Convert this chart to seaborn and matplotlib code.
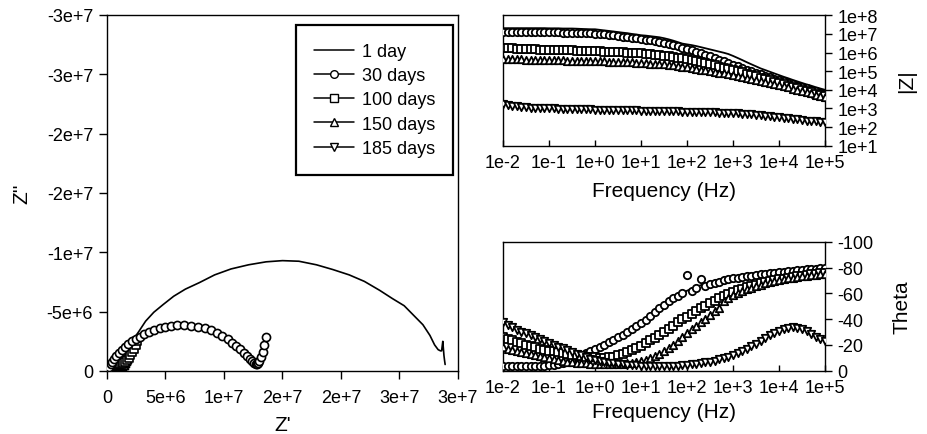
import matplotlib
matplotlib.use("Agg")
import matplotlib.pyplot as plt
from matplotlib.lines import Line2D
import seaborn as sns
import numpy as np

# ---------------- data ----------------
series_labels = ["1 day", "30 days", "100 days", "150 days", "185 days"]

freq = [0.01, 0.0126, 0.0158, 0.02, 0.0251, 0.0316, 0.0398, 0.0501, 0.0631, 0.0794,
        0.1, 0.126, 0.158, 0.2, 0.251, 0.316, 0.398, 0.501, 0.631, 0.794,
        1.0, 1.26, 1.58, 2.0, 2.51, 3.16, 3.98, 5.01, 6.31, 7.94,
        10.0, 12.6, 15.8, 20.0, 25.1, 31.6, 39.8, 50.1, 63.1, 79.4,
        100, 126, 158, 200, 251, 316, 398, 501, 631, 794,
        1000, 1260, 1580, 2000, 2510, 3160, 3980, 5010, 6310, 7940,
        10000, 12600, 15800, 20000, 25100, 31600, 39800, 50100, 63100, 79400,
        100000]

zmod_1 = [2.04e7, 2.04e7, 2.04e7, 2.04e7, 2.04e7, 2.04e7, 2.04e7, 2.04e7, 2.04e7, 2.04e7,
          2.00e7, 2.00e7, 2.00e7, 1.95e7, 1.95e7, 1.95e7, 1.91e7, 1.86e7, 1.82e7, 1.78e7,
          1.78e7, 1.66e7, 1.55e7, 1.45e7, 1.35e7, 1.26e7, 1.17e7, 1.10e7, 1.00e7, 9.33e6,
          8.51e6, 8.13e6, 7.59e6, 7.08e6, 6.61e6, 5.89e6, 5.13e6, 4.37e6, 3.63e6, 3.02e6,
          2.75e6, 2.51e6, 2.24e6, 1.95e6, 1.70e6, 1.48e6, 1.29e6, 1.12e6, 9.77e5, 8.32e5,
          6.61e5, 5.13e5, 3.98e5, 3.02e5, 2.34e5, 1.82e5, 1.41e5, 1.15e5, 9.33e4, 7.59e4,
          6.17e4, 5.01e4, 4.17e4, 3.39e4, 2.82e4, 2.34e4, 1.95e4, 1.66e4, 1.38e4, 1.17e4,
          1.00e4]
zmod_30 = [1.23e7, 1.23e7, 1.23e7, 1.23e7, 1.23e7, 1.23e7, 1.23e7, 1.23e7, 1.23e7, 1.20e7,
           1.20e7, 1.20e7, 1.20e7, 1.17e7, 1.17e7, 1.17e7, 1.15e7, 1.12e7, 1.10e7, 1.07e7,
           1.02e7, 9.77e6, 9.33e6, 8.91e6, 8.32e6, 7.76e6, 7.24e6, 6.76e6, 6.31e6, 5.89e6,
           5.50e6, 5.01e6, 4.57e6, 4.17e6, 3.72e6, 3.31e6, 2.88e6, 2.51e6, 2.14e6, 1.82e6,
           1.55e6, 1.29e6, 1.07e6, 9.12e5, 7.59e5, 6.31e5, 5.13e5, 4.17e5, 3.39e5, 2.75e5,
           2.24e5, 1.82e5, 1.48e5, 1.23e5, 1.00e5, 8.32e4, 6.92e4, 5.75e4, 4.79e4, 3.98e4,
           3.31e4, 2.82e4, 2.34e4, 2.00e4, 1.66e4, 1.41e4, 1.20e4, 1.00e4, 8.51e3, 7.08e3,
           6.03e3]
zmod_100 = [1.74e6, 1.70e6, 1.66e6, 1.62e6, 1.58e6, 1.55e6, 1.51e6, 1.48e6, 1.45e6, 1.45e6,
            1.41e6, 1.38e6, 1.35e6, 1.35e6, 1.32e6, 1.29e6, 1.26e6, 1.23e6, 1.23e6, 1.20e6,
            1.17e6, 1.15e6, 1.12e6, 1.10e6, 1.07e6, 1.05e6, 1.02e6, 1.00e6, 9.55e5, 9.33e5,
            8.91e5, 8.51e5, 8.13e5, 7.76e5, 7.41e5, 6.92e5, 6.46e5, 5.89e5, 5.37e5, 4.90e5,
            4.37e5, 3.89e5, 3.47e5, 3.02e5, 2.69e5, 2.34e5, 2.04e5, 1.78e5, 1.55e5, 1.32e5,
            1.15e5, 9.77e4, 8.51e4, 7.24e4, 6.31e4, 5.37e4, 4.57e4, 3.89e4, 3.31e4, 2.75e4,
            2.34e4, 2.00e4, 1.70e4, 1.45e4, 1.20e4, 1.02e4, 8.71e3, 7.41e3, 6.31e3, 5.25e3,
            4.47e3]
zmod_150 = [4.47e5, 4.37e5, 4.37e5, 4.27e5, 4.27e5, 4.17e5, 4.07e5, 4.07e5, 3.98e5, 3.98e5,
            3.89e5, 3.89e5, 3.80e5, 3.80e5, 3.72e5, 3.72e5, 3.63e5, 3.63e5, 3.55e5, 3.55e5,
            3.47e5, 3.39e5, 3.39e5, 3.31e5, 3.24e5, 3.16e5, 3.09e5, 3.02e5, 2.95e5, 2.88e5,
            2.75e5, 2.69e5, 2.57e5, 2.51e5, 2.40e5, 2.29e5, 2.19e5, 2.04e5, 1.91e5, 1.78e5,
            1.62e5, 1.48e5, 1.35e5, 1.23e5, 1.12e5, 1.02e5, 9.33e4, 8.32e4, 7.59e4, 6.76e4,
            6.03e4, 5.37e4, 4.79e4, 4.27e4, 3.80e4, 3.39e4, 2.95e4, 2.63e4, 2.29e4, 2.04e4,
            1.78e4, 1.55e4, 1.35e4, 1.17e4, 1.02e4, 8.71e3, 7.59e3, 6.46e3, 5.50e3, 4.79e3,
            4.07e3]
zmod_185 = [1700, 1550, 1410, 1320, 1230, 1170, 1120, 1100, 1070, 1050,
            1020, 1000, 977, 955, 955, 933, 912, 912, 891, 891,
            871, 851, 851, 832, 832, 813, 794, 794, 776, 776,
            759, 741, 741, 724, 724, 708, 708, 692, 692, 676,
            661, 661, 646, 646, 631, 617, 617, 603, 589, 575,
            562, 550, 525, 501, 479, 468, 437, 417, 389, 363,
            339, 316, 295, 275, 257, 240, 224, 214, 204, 195,
            186]

theta_1 = [-2, -2, -2, -2, -2, -2, -2, -2.2, -2.4, -2.7,
           -3, -3.5, -4.2, -5.2, -6.5, -8, -9.7, -11.5, -13.3, -15,
           -16.5, -18.2, -20, -22, -24, -26, -28, -30, -32.5, -35,
           -37, -39.5, -42.5, -45.5, -48.5, -51, -54, -56, -58, -60,
           -62, -63.5, -65, -66.3, -67.5, -68.5, -69.5, -70.4, -71.2, -72,
           -72.7, -73.4, -74, -74.6, -75.2, -75.7, -76.2, -76.7, -77.1, -77.5,
           -77.9, -78.3, -78.7, -79, -79.3, -79.7, -80, -80.3, -80.6, -80.9,
           -81.2]
theta_30 = [-3.9, -3.8, -3.8, -3.8, -3.8, -3.8, -3.8, -3.9, -3.9, -4.0,
            -4.3, -4.7, -5.3, -6.2, -7.5, -9, -10.5, -12, -13.5, -15,
            -16.5, -18.2, -20, -22, -24, -26, -28, -30, -32.5, -35,
            -37, -39.5, -42.5, -45.5, -48.5, -51, -54, -56, -58, -60,
            -74, -62, -64, -71, -66, -67, -68, -69, -70, -70.8,
            -71.5, -72.1, -72.7, -73.2, -73.7, -74.2, -74.7, -75.1, -75.5, -75.9,
            -76.3, -76.7, -77.1, -77.5, -77.9, -78.2, -78.5, -78.8, -79.1, -79.4,
            -79.6]
theta_100 = [-26, -24.8, -23.6, -22.4, -21.2, -20, -19, -18.1, -17.2, -16.3,
             -15.5, -14.9, -14.3, -13.7, -13.1, -12.5, -12, -11.5, -11, -10.6,
             -10.3, -10.1, -10.1, -10.3, -11, -12, -13.2, -14.7, -16.2, -17.8,
             -19.5, -21.5, -23.5, -25.5, -27.7, -30, -32.5, -35, -37.5, -39.8,
             -42, -44.2, -46.4, -48.5, -50.5, -52.5, -54.3, -56, -57.8, -59.5,
             -61, -62.3, -63.5, -64.7, -65.8, -66.8, -67.7, -68.5, -69.3, -70.1,
             -70.8, -71.4, -72, -72.6, -73.2, -73.7, -74.2, -74.7, -75.2, -75.6,
             -76]
theta_150 = [-18, -17.2, -16.4, -15.6, -14.8, -14, -13.1, -12.2, -11.3, -10.4,
             -9.5, -8.9, -8.3, -7.7, -7.1, -6.5, -6.2, -5.9, -5.6, -5.4,
             -5.2, -5.1, -5, -4.9, -4.9, -5, -5.3, -5.8, -6.3, -6.9,
             -7.5, -8.5, -9.7, -11.2, -13, -15, -17.5, -20.2, -23, -26,
             -29, -32, -34.8, -37.5, -40.3, -43, -46, -48.8, -54, -56.5,
             -58.5, -60.2, -61.7, -63.1, -64.4, -65.7, -66.7, -67.6, -68.6, -69.5,
             -70.3, -70.9, -71.5, -72.1, -72.7, -73.2, -73.6, -74, -74.4, -74.8,
             -75.2]
theta_185 = [-38, -35.8, -33.7, -31.8, -30.2, -29, -27.5, -26, -24.8, -23.3,
             -21.5, -20, -18.5, -17.3, -16, -14.5, -13.2, -12, -10.7, -9.3,
             -8, -7.2, -6.5, -6, -5.6, -5.2, -4.9, -4.6, -4.4, -4.2,
             -4, -3.9, -3.9, -3.8, -3.8, -3.8, -3.8, -3.9, -4, -4.2,
             -4.5, -4.9, -5.4, -5.9, -6.4, -7, -7.8, -8.8, -9.8, -10.8,
             -12, -13.5, -15.2, -17, -19, -21, -23.2, -25.5, -27.6, -29.5,
             -31, -32.3, -33.2, -33.6, -33.2, -32, -30.5, -28.5, -26.5, -24.6,
             -22.8]

# Nyquist data, in units of 1e6 ohm (Z'' negative)
zre_1 = [0, 0.3, 0.7, 1.2, 1.7, 2.2, 2.7, 3.3, 4.0, 4.8,
         5.7, 6.7, 7.9, 9.2, 10.6, 12.1, 13.6, 15.0, 16.4, 17.9,
         19.3, 20.7, 22.0, 23.3, 24.4, 25.4, 26.3, 27.0, 27.6, 28.0,
         28.3, 28.5, 28.6, 28.7, 28.75, 28.8, 28.85, 28.9]
zim_1 = [0, -0.45, -0.95, -1.5, -2.0, -2.6, -3.3, -4.2, -4.95, -5.6,
         -6.3, -6.9, -7.45, -8.1, -8.6, -8.95, -9.2, -9.3, -9.25, -8.95,
         -8.55, -8.1, -7.55, -6.8, -6.1, -5.5, -4.6, -3.9, -3.0, -2.2,
         -1.8, -1.7, -1.7, -2.5, -1.9, -1.3, -0.9, -0.55]
zre_30 = [0.05, 0.15, 0.3, 0.45, 0.6, 0.8, 1.0, 1.25, 1.5, 1.8,
          2.1, 2.45, 2.8, 3.2, 3.6, 4.05, 4.5, 5.0, 5.5, 6.0,
          6.6, 7.2, 7.8, 8.35, 8.9, 9.4, 9.85, 10.3, 10.7, 11.05,
          11.4, 11.7, 11.95, 12.2, 12.4, 12.55, 12.7, 12.8, 12.9, 13.0,
          13.15, 13.3, 13.45, 13.6]
zim_30 = [-0.1, -0.3, -0.55, -0.8, -1.05, -1.3, -1.55, -1.8, -2.05, -2.3,
          -2.5, -2.7, -2.9, -3.1, -3.3, -3.45, -3.6, -3.72, -3.8, -3.84,
          -3.85, -3.82, -3.73, -3.6, -3.42, -3.2, -2.95, -2.68, -2.4, -2.12,
          -1.83, -1.55, -1.28, -1.03, -0.82, -0.67, -0.58, -0.57, -0.65, -0.85,
          -1.15, -1.6, -2.2, -2.85]
zre_100 = [0.02, 0.1, 0.2, 0.35, 0.5, 0.65, 0.8, 0.95, 1.1, 1.25,
           1.4, 1.55, 1.7, 1.85, 2.0, 2.15, 2.3, 2.45, 2.6]
zim_100 = [-0.05, -0.15, -0.25, -0.35, -0.42, -0.48, -0.52, -0.55, -0.58, -0.62,
           -0.68, -0.78, -0.92, -1.1, -1.32, -1.58, -1.88, -2.2, -2.55]
zre_150 = [0.02, 0.1, 0.2, 0.3, 0.42, 0.55, 0.7, 0.85, 1.0, 1.15,
           1.3, 1.42, 1.52, 1.6, 1.68, 1.75]
zim_150 = [-0.03, -0.08, -0.13, -0.18, -0.22, -0.26, -0.28, -0.3, -0.32, -0.35,
           -0.4, -0.5, -0.65, -0.85, -1.05, -1.3]
zre_185 = [0.0002, 0.0004, 0.0006, 0.0008, 0.001, 0.0013, 0.0016]
zim_185 = [-0.00005, -0.0001, -0.00013, -0.00015, -0.0002, -0.0004, -0.001]

nyq_xticks = [0, 5e6, 1e7, 1.5e7, 2e7, 2.5e7, 3e7]
nyq_xticklabels = ["0", "5e+6", "1e+7", "2e+7", "2e+7", "3e+7", "3e+7"]
nyq_yticks = [0, -5e6, -1e7, -1.5e7, -2e7, -2.5e7, -3e7]
nyq_yticklabels = ["0", "-5e+6", "-1e+7", "-2e+7", "-2e+7", "-3e+7", "-3e+7"]
freq_ticks = [1e-2, 1e-1, 1e0, 1e1, 1e2, 1e3, 1e4, 1e5]
freq_ticklabels = ["1e-2", "1e-1", "1e+0", "1e+1", "1e+2", "1e+3", "1e+4", "1e+5"]
zmod_ticks = [1e1, 1e2, 1e3, 1e4, 1e5, 1e6, 1e7, 1e8]
zmod_ticklabels = ["1e+1", "1e+2", "1e+3", "1e+4", "1e+5", "1e+6", "1e+7", "1e+8"]
theta_ticks = [0, -20, -40, -60, -80, -100]
theta_ticklabels = ["0", "-20", "-40", "-60", "-80", "-100"]

# ---------------- style ----------------
sns.set_theme(style="white")
plt.rcParams['font.family'] = ['Liberation Sans', 'DejaVu Sans']
plt.rcParams['text.color'] = 'black'
plt.rcParams['axes.labelcolor'] = 'black'
plt.rcParams['xtick.color'] = 'black'
plt.rcParams['ytick.color'] = 'black'
TICK_FS = 13
LAB_FS = 15

fig = plt.figure(figsize=(9.28, 4.35), dpi=100)
W, H = 928.0, 435.0

def axes_px(x0, x1, ytop, ybot):
    return fig.add_axes([x0 / W, (H - ybot) / H, (x1 - x0) / W, (ybot - ytop) / H])

ax_n = axes_px(107, 458, 16, 372)
ax_m = axes_px(503, 825, 16.3, 146.7)
ax_t = axes_px(503, 825, 242.7, 371.7)

mk_n = dict(color="white", edgecolor="black", linewidth=1.2, s=34, zorder=3)
mk_b = dict(color="white", edgecolor="black", linewidth=1.3, s=28, zorder=3)
markers = {"30 days": "o", "100 days": "s", "150 days": "^", "185 days": "v"}

# ---------------- Nyquist ----------------
M = 1e6
sns.lineplot(x=np.array(zre_1) * M, y=np.array(zim_1) * M, ax=ax_n, sort=False,
             estimator=None, color="black", linewidth=1.2, zorder=2)
for lab, xr, yi in [("185 days", zre_185, zim_185), ("150 days", zre_150, zim_150),
                    ("100 days", zre_100, zim_100), ("30 days", zre_30, zim_30)]:
    sns.scatterplot(x=np.array(xr) * M, y=np.array(yi) * M, ax=ax_n,
                    marker=markers[lab], **mk_n)
ax_n.set_xlim(0, 3e7)
ax_n.set_ylim(0, -3e7)
ax_n.set_xticks(nyq_xticks)
ax_n.set_xticklabels(nyq_xticklabels)
ax_n.set_yticks(nyq_yticks)
ax_n.set_yticklabels(nyq_yticklabels)
ax_n.tick_params(axis="both", direction="out", length=6, width=1, labelsize=TICK_FS,
                 colors="black", left=True, bottom=True)
ax_n.tick_params(axis="x", pad=7)
ax_n.tick_params(axis="y", pad=4)
ax_n.set_xlabel("Z'", fontsize=LAB_FS)
ax_n.set_ylabel("Z''", fontsize=LAB_FS)
ax_n.xaxis.set_label_coords(0.5, -0.125)
ax_n.yaxis.set_label_coords(-0.215, 0.5)

handles = [Line2D([0], [0], color="black", lw=1.1, label="1 day")]
for lab in ["30 days", "100 days", "150 days", "185 days"]:
    handles.append(Line2D([0], [0], color="black", lw=1.1, marker=markers[lab],
                          markersize=5.5, markerfacecolor="white",
                          markeredgecolor="black", markeredgewidth=1.0, label=lab))
leg = ax_n.legend(handles=handles, loc="upper right", bbox_to_anchor=(0.986, 0.972),
                  borderaxespad=0, borderpad=1.0, handlelength=2.2, handletextpad=0.45,
                  labelspacing=0.4, fontsize=TICK_FS, frameon=True, fancybox=False,
                  framealpha=1, edgecolor="black")
leg.get_frame().set_linewidth(1.6)

# ---------------- |Z| ----------------
sns.lineplot(x=freq, y=zmod_1, ax=ax_m, sort=False, estimator=None,
             color="black", linewidth=1.3, zorder=2)
for lab, zz in [("30 days", zmod_30), ("100 days", zmod_100),
                ("150 days", zmod_150), ("185 days", zmod_185)]:
    sns.scatterplot(x=freq, y=zz, ax=ax_m, marker=markers[lab], **mk_b)
ax_m.set_xscale("log")
ax_m.set_yscale("log")
ax_m.set_xlim(1e-2, 1e5)
ax_m.set_ylim(1e1, 1e8)

# ---------------- Theta ----------------
sns.lineplot(x=freq, y=theta_1, ax=ax_t, sort=False, estimator=None,
             color="black", linewidth=1.3, zorder=2)
for lab, tt in [("30 days", theta_30), ("100 days", theta_100),
                ("150 days", theta_150), ("185 days", theta_185)]:
    sns.scatterplot(x=freq, y=tt, ax=ax_t, marker=markers[lab], **mk_b)
ax_t.set_xscale("log")
ax_t.set_xlim(1e-2, 1e5)
ax_t.set_ylim(0, -100)

for ax, yt, ytl, ylab in [(ax_m, zmod_ticks, zmod_ticklabels, "|Z|"),
                          (ax_t, theta_ticks, theta_ticklabels, "Theta")]:
    ax.set_xticks(freq_ticks)
    ax.set_xticklabels(freq_ticklabels)
    ax.xaxis.set_minor_locator(matplotlib.ticker.NullLocator())
    ax.set_yticks(yt)
    ax.set_yticklabels(ytl)
    ax.yaxis.set_minor_locator(matplotlib.ticker.NullLocator())
    ax.yaxis.tick_right()
    ax.yaxis.set_label_position("right")
    ax.tick_params(axis="x", direction="in", length=4, width=1, labelsize=TICK_FS,
                   colors="black", pad=6, bottom=True)
    ax.tick_params(axis="y", direction="out", length=5, width=1, labelsize=TICK_FS,
                   colors="black", pad=4, right=True, left=False)
    ax.set_xlabel("Frequency (Hz)", fontsize=LAB_FS)
    ax.set_ylabel(ylab, fontsize=LAB_FS)

ax_m.xaxis.set_label_coords(0.5, -0.27)
ax_t.xaxis.set_label_coords(0.5, -0.245)
ax_m.yaxis.set_label_coords(1.225, 0.5)
ax_t.yaxis.set_label_coords(1.21, 0.5)

for ax in (ax_n, ax_m, ax_t):
    for sp in ax.spines.values():
        sp.set_color("black")
        sp.set_linewidth(1.0)
        sp.set_visible(True)
    if ax.get_legend() is not None and ax is not ax_n:
        ax.get_legend().remove()

fig.savefig("out.png", dpi=100, facecolor="white")
